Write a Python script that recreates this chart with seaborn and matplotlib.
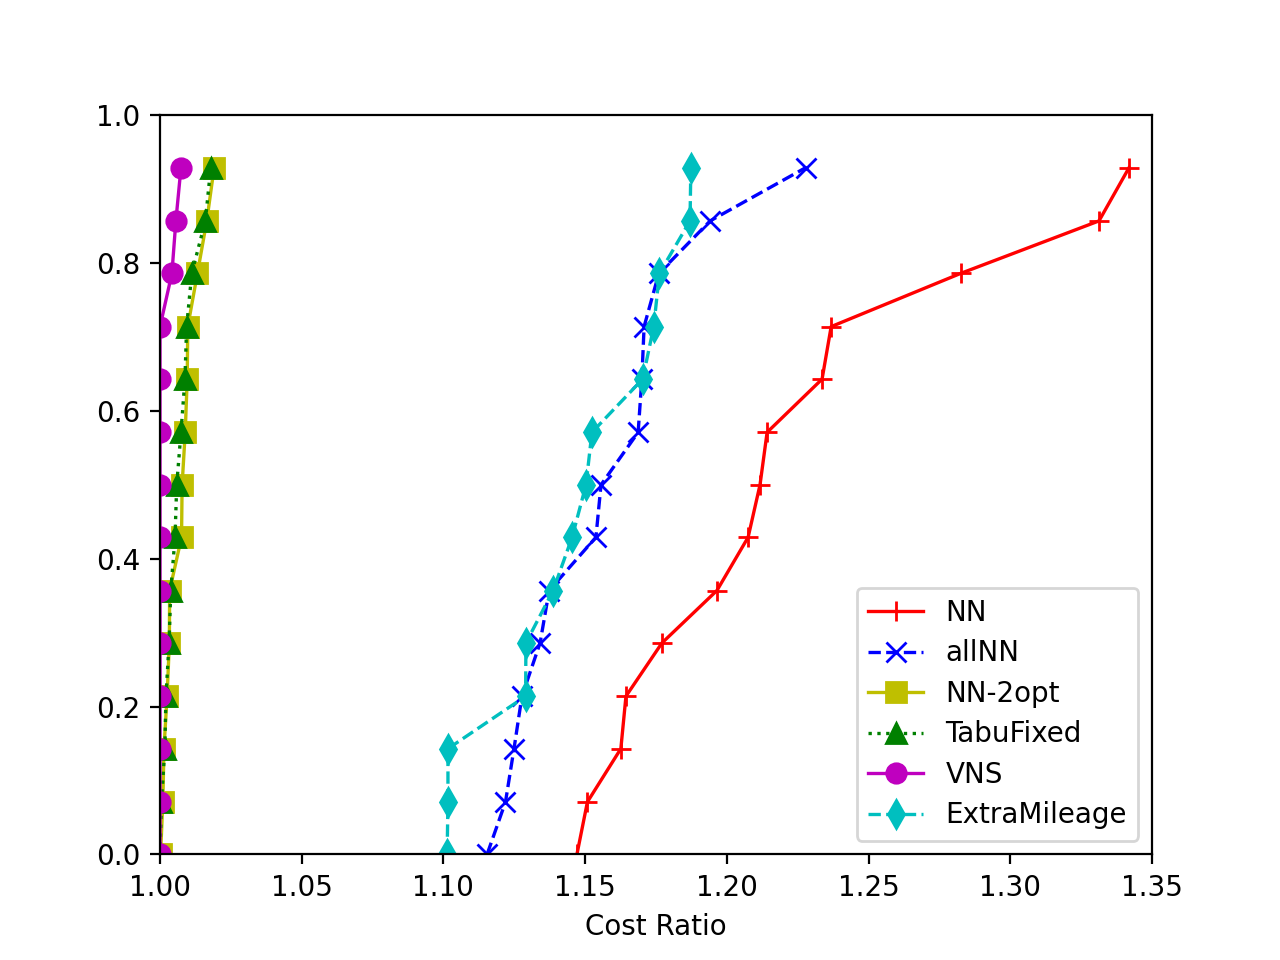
import numpy as np
import pandas as pd
import matplotlib
matplotlib.use("Agg")
import matplotlib.pyplot as plt
import seaborn as sns

# fraction of instances (y axis)
ratio = [0.000, 0.071, 0.143, 0.214, 0.286, 0.357, 0.429,
         0.500, 0.571, 0.643, 0.714, 0.786, 0.857, 0.929]

# cost ratio per heuristic (x axis)
nn = [1.1471, 1.1508, 1.1626, 1.1644, 1.1771, 1.1965, 1.2075,
      1.2117, 1.2142, 1.2336, 1.2368, 1.2825, 1.3313, 1.3419]
all_nn = [1.1154, 1.1219, 1.1249, 1.1277, 1.1341, 1.1373, 1.1538,
          1.1556, 1.1687, 1.1700, 1.1708, 1.1760, 1.1941, 1.2278]
nn_2opt = [1.0002, 1.0010, 1.0014, 1.0025, 1.0033, 1.0034, 1.0076,
           1.0078, 1.0089, 1.0096, 1.0098, 1.0132, 1.0165, 1.0191]
tabu_fixed = [1.0000, 1.0005, 1.0017, 1.0021, 1.0032, 1.0038, 1.0053,
              1.0059, 1.0074, 1.0088, 1.0094, 1.0112, 1.0160, 1.0179]
vns = [1.0000, 1.0000, 1.0000, 1.0000, 1.0000, 1.0000, 1.0000,
       1.0000, 1.0000, 1.0000, 1.0000, 1.0042, 1.0056, 1.0074]
extra_mileage = [1.1013, 1.1016, 1.1016, 1.1290, 1.1291, 1.1387, 1.1454,
                 1.1503, 1.1524, 1.1703, 1.1742, 1.1762, 1.1870, 1.1873]

series = [
    ("NN", nn, "r", "+", "-"),
    ("allNN", all_nn, "b", "x", "--"),
    ("NN-2opt", nn_2opt, "y", "s", "-"),
    ("TabuFixed", tabu_fixed, "g", "^", ":"),
    ("VNS", vns, "m", "o", "-"),
    ("ExtraMileage", extra_mileage, "c", "d", "--"),
]

fig, ax = plt.subplots(figsize=(6.4, 4.8), dpi=200)

for name, vals, col, mk, ls in series:
    df = pd.DataFrame({"cost": vals, "frac": ratio})
    sns.lineplot(data=df, x="cost", y="frac", ax=ax, color=col, marker=mk,
                 linestyle=ls, markersize=7, markeredgecolor=col,
                 markeredgewidth=1.0, linewidth=1.2, label=name,
                 estimator=None, sort=False)

ax.set_xlim(1.0, 1.35)
ax.set_ylim(0.0, 1.0)
ax.set_xlabel("Cost Ratio")
ax.set_ylabel("")
ax.legend(loc="lower right", labelspacing=0.45)

plt.savefig("out.png", dpi=200)
plt.close()
